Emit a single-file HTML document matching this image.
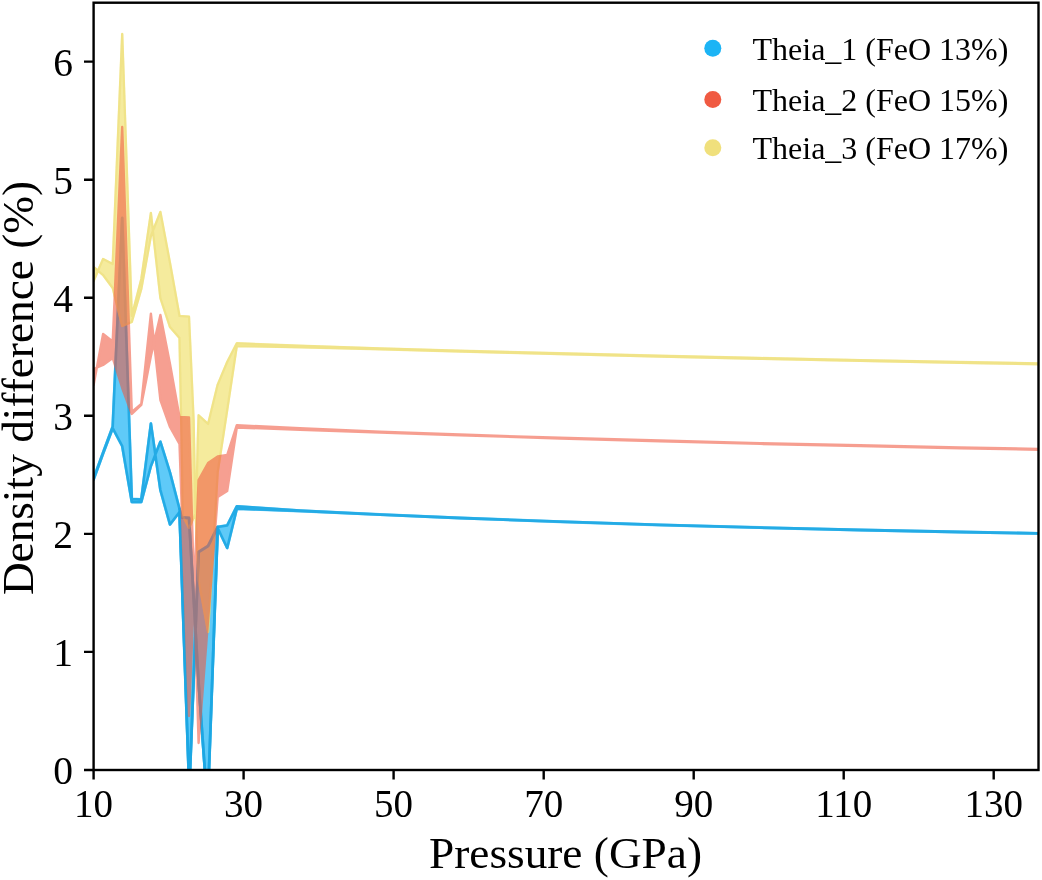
<!DOCTYPE html>
<html><head><meta charset="utf-8">
<style>
html,body{margin:0;padding:0;background:#fff;}
body{width:1042px;height:880px;overflow:hidden;}
svg{display:block;}
text{font-family:"Liberation Serif","Times New Roman",serif;fill:#000;}
</style></head><body>
<svg width="1042" height="880" viewBox="0 0 1042 880">
<rect width="1042" height="880" fill="#fff"/>
<g id="bands">
<defs><clipPath id="cp"><rect x="93.6" y="2.7" width="944.9" height="767.3"/></clipPath></defs>
<g clip-path="url(#cp)" stroke-linejoin="round" stroke-linecap="round">
<g opacity="0.7"><path d="M93.6,478.4 103.1,452.4 112.7,426.6 122.2,218.0 131.8,499.0 141.3,499.5 150.9,423.6 160.4,490.0 170.0,524.5 179.5,512.0 189.3,790.0 198.6,552.0 208.1,546.0 217.7,527.0 227.2,525.5 236.8,506.3 300.0,510.6 380.0,514.5 460.0,517.9 560.0,521.6 660.0,524.8 760.0,527.5 860.0,529.9 960.0,531.9 1038.5,533.3 L1038.5,533.5 960.0,532.1 860.0,530.1 760.0,527.7 660.0,525.0 560.0,521.8 460.0,518.1 380.0,514.7 300.0,511.0 236.8,508.6 227.2,548.0 217.7,528.0 207.6,808.0 198.6,683.0 189.0,518.0 181.6,517.5 179.5,509.0 170.0,472.7 160.4,441.8 150.9,466.0 141.3,502.0 131.8,502.0 122.2,446.0 112.7,428.2 103.1,453.6 93.6,479.6Z" fill="#1cb4f5" stroke="#1cb4f5" stroke-width="2.8"/></g>
<path d="M93.6,478.4 103.1,452.4 112.7,426.6 122.2,218.0 131.8,499.0 141.3,499.5 150.9,423.6 160.4,490.0 170.0,524.5 179.5,512.0 189.3,790.0 198.6,552.0 208.1,546.0 217.7,527.0 227.2,525.5 236.8,506.3 300.0,510.6 380.0,514.5 460.0,517.9 560.0,521.6 660.0,524.8 760.0,527.5 860.0,529.9 960.0,531.9 1038.5,533.3 M93.6,479.6 103.1,453.6 112.7,428.2 122.2,446.0 131.8,502.0 141.3,502.0 150.9,466.0 160.4,441.8 170.0,472.7 179.5,509.0 181.6,517.5 189.0,518.0 198.6,683.0 207.6,808.0 217.7,528.0 227.2,548.0 236.8,508.6 300.0,511.0 380.0,514.7 460.0,518.1 560.0,521.8 660.0,525.0 760.0,527.7 860.0,530.1 960.0,532.1 1038.5,533.5" fill="none" stroke="#1aa6e2" stroke-opacity="0.85" stroke-width="2.6"/>
<g opacity="0.67"><path d="M93.6,281.0 103.1,259.0 112.7,264.0 122.2,34.0 131.8,316.0 141.3,279.0 150.9,213.0 160.4,298.0 170.0,327.0 179.5,338.0 181.6,440.0 182.8,516.0 189.0,528.0 196.2,512.0 197.8,440.0 198.6,415.3 208.1,424.0 217.7,384.6 227.2,362.0 236.8,343.3 300.0,345.8 380.0,348.4 460.0,350.8 560.0,353.3 660.0,355.8 760.0,358.0 860.0,360.1 960.0,362.0 1038.5,363.4 L1038.5,364.2 960.0,362.8 860.0,360.9 760.0,358.8 660.0,356.6 560.0,354.1 460.0,351.5 380.0,349.2 300.0,347.2 236.8,346.0 227.2,410.0 217.7,472.0 208.1,632.0 198.6,580.0 195.4,510.0 193.6,420.0 189.0,316.7 179.5,316.0 170.0,263.0 160.4,212.0 150.9,236.0 141.3,289.0 131.8,322.0 122.2,326.0 112.7,288.0 103.1,275.0 93.6,267.0Z" fill="#f1e26e" stroke="#f1e26e" stroke-width="2.4"/></g>
<path d="M179.5,512.0 189.3,790.0 198.6,552.0 208.1,546.0 217.7,527.0 M179.5,509.0 181.6,517.5 189.0,518.0 198.6,683.0 207.6,808.0 217.7,528.0" fill="none" stroke="#1aa6e2" stroke-opacity="0.8" stroke-width="2.8"/>
<path d="M93.6,281.0 103.1,259.0 112.7,264.0 122.2,34.0 131.8,316.0 141.3,279.0 150.9,213.0 160.4,298.0 170.0,327.0 179.5,338.0 181.6,440.0 182.8,516.0 189.0,528.0 196.2,512.0 197.8,440.0 198.6,415.3 208.1,424.0 217.7,384.6 227.2,362.0 236.8,343.3 300.0,345.8 380.0,348.4 460.0,350.8 560.0,353.3 660.0,355.8 760.0,358.0 860.0,360.1 960.0,362.0 1038.5,363.4 M93.6,267.0 103.1,275.0 112.7,288.0 122.2,326.0 131.8,322.0 141.3,289.0 150.9,236.0 160.4,212.0 170.0,263.0 179.5,316.0 189.0,316.7 193.6,420.0 195.4,510.0 198.6,580.0 208.1,632.0 217.7,472.0 227.2,410.0 236.8,346.0 300.0,347.2 380.0,349.2 460.0,351.5 560.0,354.1 660.0,356.6 760.0,358.8 860.0,360.9 960.0,362.8 1038.5,364.2" fill="none" stroke="#e8d868" stroke-opacity="0.4" stroke-width="2.2"/>
<g opacity="0.58"><path d="M93.6,385.0 103.1,334.0 112.7,341.5 122.2,127.0 131.8,412.0 141.3,404.0 150.9,313.6 160.4,400.0 170.0,427.0 179.5,444.0 189.0,716.0 198.6,480.0 208.1,463.0 217.7,456.5 227.2,455.0 236.8,425.2 300.0,428.3 380.0,431.8 460.0,434.5 560.0,437.8 660.0,440.5 760.0,443.1 860.0,445.3 960.0,447.4 1038.5,448.9 L1038.5,449.7 960.0,448.2 860.0,446.1 760.0,443.9 660.0,441.2 560.0,438.5 460.0,435.2 380.0,432.5 300.0,429.7 236.8,427.6 227.2,491.0 217.7,497.0 208.1,620.0 198.6,743.0 189.0,417.5 179.5,417.0 170.0,364.0 160.4,315.0 150.9,356.0 141.3,405.0 131.8,414.0 122.2,388.0 112.7,358.0 103.1,365.0 93.6,369.0Z" fill="#f05a42" stroke="#f05a42" stroke-width="2.4"/></g>
</g>
</g>
<g id="axes" stroke="#000" stroke-width="2.4" fill="none">
<rect x="93.6" y="2.7" width="944.9" height="767.3"/>
<g id="yt">
<path d="M84 770H93.6M84 651.9H93.6M84 533.9H93.6M84 415.8H93.6M84 297.7H93.6M84 179.7H93.6M84 61.6H93.6"/>
</g>
<g id="xt">
<path d="M93.6 770V779.5M243.6 770V779.5M393.6 770V779.5M543.7 770V779.5M693.7 770V779.5M843.7 770V779.5M993.7 770V779.5"/>
</g>
</g>
<g id="ylab" font-size="39.5" text-anchor="end">
<text x="73" y="784">0</text>
<text x="73" y="666">1</text>
<text x="73" y="548">2</text>
<text x="73" y="430">3</text>
<text x="73" y="312">4</text>
<text x="73" y="194">5</text>
<text x="73" y="76">6</text>
</g>
<g id="xlab" font-size="39" text-anchor="middle">
<text x="93.6" y="816.8">10</text>
<text x="243.6" y="816.8">30</text>
<text x="393.6" y="816.8">50</text>
<text x="543.7" y="816.8">70</text>
<text x="693.7" y="816.8">90</text>
<text x="843.7" y="816.8">110</text>
<text x="993.7" y="816.8">130</text>
</g>
<text x="565.5" y="867.5" font-size="45.3" text-anchor="middle">Pressure (GPa)</text>
<text transform="translate(33,388) rotate(-90)" font-size="45.3" text-anchor="middle">Density difference (%)</text>
<g id="legend">
<circle cx="712.8" cy="48.3" r="8.5" fill="#1cb4f5"/>
<circle cx="712.8" cy="99.5" r="8.5" fill="#f05a42"/>
<circle cx="712.8" cy="147.8" r="8.5" fill="#f0e07c"/>
<g font-size="32">
<text x="752.5" y="59.5">Theia_1 (FeO 13%)</text>
<text x="752.5" y="110.5">Theia_2 (FeO 15%)</text>
<text x="752.5" y="159">Theia_3 (FeO 17%)</text>
</g>
</g>
</svg>
</body></html>
